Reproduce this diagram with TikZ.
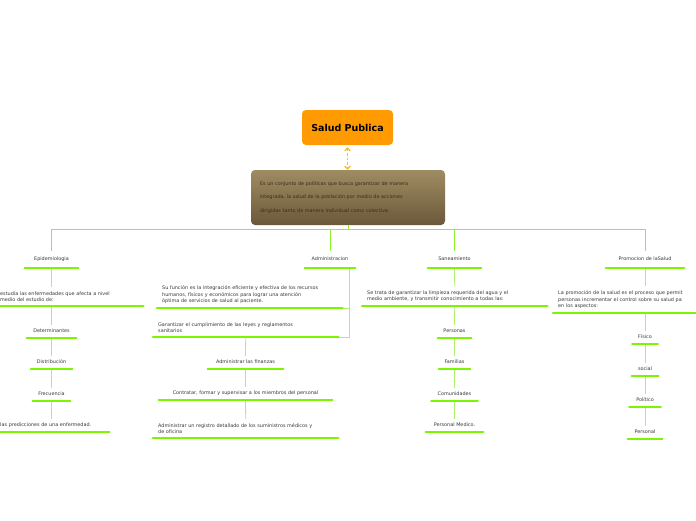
\documentclass[tikz,border=0pt]{standalone}
\usepackage{fontspec}
\setmainfont{DejaVu Sans}
\setsansfont{DejaVu Sans}
\usepackage{xcolor}
\usepackage{tikz}
\usetikzlibrary{arrows.meta, positioning, calc}
\definecolor{naranja}{HTML}{FF9A00}
\definecolor{cafeclaro}{HTML}{A08C62}
\definecolor{cafeoscuro}{HTML}{6B583A}
\definecolor{cafetexto}{HTML}{3A2E1C}
\definecolor{ambar}{HTML}{F5C02E}
\definecolor{lima}{HTML}{7CF500}
\definecolor{limaviva}{HTML}{8CF02A}
\definecolor{limaclaro}{HTML}{AEF06A}
\definecolor{gris}{HTML}{3A3A3A}
\newcommand{\letrachica}{\fontsize{4.9}{6.6}\selectfont}
\tikzset{
  every picture/.style={font=\sffamily, >=Stealth},
  central/.style={fill=naranja, text=black, rounded corners=4pt, minimum width=91pt, minimum height=35pt,
              font=\sffamily\fontsize{9.5}{11}\selectfont\bfseries},
  definicion/.style={top color=cafeclaro, bottom color=cafeoscuro, text=cafetexto, rounded corners=4pt,
              minimum width=194pt, minimum height=55pt, text width=176pt, inner xsep=9pt, align=left,
              font=\sffamily\fontsize{4.9}{13.5}\selectfont},
  cabeza/.style={text=gris, font=\sffamily\letrachica, minimum width=#1, inner xsep=0pt, inner ysep=6pt,
              text height=3.6pt, text depth=1.1pt, anchor=south},
  tema/.style={cabeza=#1, inner ysep=4pt},
  texto/.style={text=gris, font=\sffamily\letrachica, text width=#1, inner xsep=5pt, inner ysep=4pt,
              align=left, anchor=south west},
  subrayado/.style={lima, line width=2.6pt, line cap=round},
  rama/.style={limaclaro, line width=0.8pt},
  ramaviva/.style={limaviva, line width=1pt},
  enlace/.style={{Straight Barb[length=2.8pt,width=5.5pt]}-{Straight Barb[length=2.8pt,width=5.5pt]},
              ambar, line width=1.4pt, dash pattern=on 2.5pt off 2pt},
}

\begin{document}
\begin{tikzpicture}[x=1pt, y=-1pt]
  \fill[white] (0,0) rectangle (696,520);
  \useasboundingbox (0,0) rectangle (696,520);

  \node[central] (salud) at (347.5,127.5) {Salud Publica};
  \node[definicion] (def) at (348,197.5) {Es un conjunto de políticas que busca garantizar de manera\\
    integrada, la salud de la población por medio de acciones\\
    dirigidas tanto de manera individual como colectiva.};
  \draw[enlace] ([yshift=-2pt]salud.south) -- (salud.south |- def.north);
  \coordinate (bus) at (348,229);

  % ramas
  \node[cabeza=53pt] (epi) at (51.5,268) {Epidemiologia};
  \node[cabeza=50pt] (adm) at (330,268) {Administracion};
  \node[cabeza=53pt] (san) at (454.5,268) {Saneamiento};
  \node[cabeza=78pt] (prom) at (645,268) {Promocion de laSalud};
  \draw[ramaviva] (def.south) -- (bus);
  \foreach \n in {epi, adm, san, prom}
    \draw[ramaviva] (bus) -| (\n.north);

  % epidemiologia
  \node[texto=138pt] (epidef) at (-5,306) {estudia las enfermedades que afecta a nivel\\ medio del estudio de:};
  \foreach \n/\t/\y/\w in {det/Determinantes/338/49pt, dist/Distribución/369/41pt, frec/Frecuencia/401/37pt}
    \node[tema=\w] (\n) at (51.5,\y) {\t};
  \node[texto=104pt] (pred) at (-5,432) {las predicciones de una enfermedad.};
  \draw[rama] (epi.south) -- (epi.south |- epidef.north);
  \draw[rama] (det.north |- epidef.south) -- (det.north);
  \draw[rama] (det.south) -- (dist.north);
  \draw[rama] (dist.south) -- (frec.north);
  \draw[rama] (frec.south) -- (frec.south |- pred.north);

  % administracion
  \node[texto=175pt] (funcion) at (157,308) {Su función es la integración eficiente y efectiva de los recursos\\
    humanos, físicos y económicos para lograr una atención\\ óptima de servicios de salud al paciente.};
  \node[texto=175pt] (garant) at (153,337) {Garantizar el cumplimiento de las leyes y reglamentos\\ sanitarios};
  \node[tema=75pt] (finanzas) at (245.5,369) {Administrar las finanzas};
  \node[tema=173pt] (contratar) at (245.5,400) {Contratar, formar y supervisar a los miembros del personal};
  \node[texto=175pt] (registro) at (153,438) {Administrar un registro detallado de los suministros médicos y\\ de oficina};
  \draw[rama] ([xshift=-6pt]adm.south east) |- (funcion.south east);
  \draw[rama] ([xshift=-6pt]adm.south east) |- (garant.south east);
  \draw[rama] (garant.south) -- (finanzas.north);
  \draw[rama] (finanzas.south) -- (contratar.north);
  \draw[rama] (contratar.south) -- (registro.north);

  % saneamiento
  \node[texto=175pt] (sandef) at (362,306) {Se trata de garantizar la limpieza requerida del agua y el\\
    medio ambiente, y transmitir conocimiento a todas las:};
  \foreach \n/\t/\y/\w in {pers/Personas/338/33pt, fam/Familias/369/31pt, com/Comunidades/401/46pt, med/Personal Medico./432/57pt}
    \node[tema=\w] (\n) at (454.5,\y) {\t};
  \draw[rama] (san.south) -- (sandef.north);
  \draw[rama] (sandef.south) -- (pers.north);
  \draw[rama] (pers.south) -- (fam.north);
  \draw[rama] (fam.south) -- (com.north);
  \draw[rama] (com.south) -- (med.north);

  % promocion
  \node[texto=160pt] (promdef) at (553,313) {La promoción de la salud es el proceso que permit\\
    personas incrementar el control sobre su salud pa\\ en los aspectos:};
  \foreach \n/\t/\y/\w in {fis/Físico/344/25pt, soc/social/376/26pt, pol/Político/407/31pt, perso/Personal/439/34pt}
    \node[tema=\w] (\n) at (645,\y) {\t};
  \draw[rama] (prom.south) -- (prom.south |- promdef.north);
  \draw[rama] (fis.north |- promdef.south) -- (fis.north);
  \draw[rama] (fis.south) -- (soc.north);
  \draw[rama] (soc.south) -- (pol.north);
  \draw[rama] (pol.south) -- (perso.north);

  % subrayados
  \foreach \n in {epi, adm, san, prom, epidef, det, dist, frec, pred, funcion, garant, finanzas, contratar,
      registro, sandef, pers, fam, com, med, promdef, fis, soc, pol, perso}
    \draw[subrayado] (\n.south west) -- (\n.south east);
\end{tikzpicture}
\end{document}
